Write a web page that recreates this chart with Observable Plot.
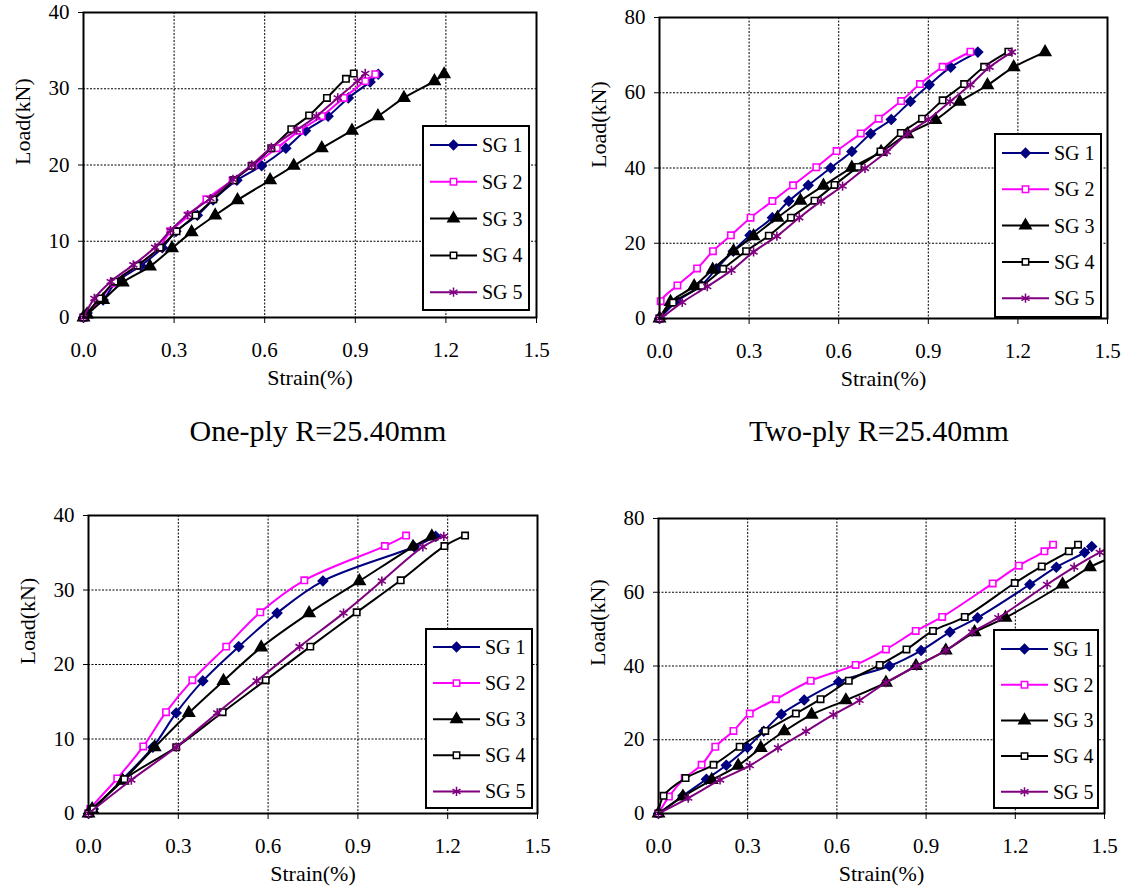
<!DOCTYPE html>
<html>
<head>
<meta charset="utf-8">
<script src="https://cdn.jsdelivr.net/npm/d3@7"></script>
<script src="https://cdn.jsdelivr.net/npm/@observablehq/plot@0.6"></script>
<style>
  body { margin: 0; background: #fff; }
  #root { position: relative; width: 1131px; height: 888px; overflow: hidden; background: #fff;
          font-family: "Liberation Serif", "Times New Roman", serif; color: #000; }
  #root svg text { font-family: "Liberation Serif", "Times New Roman", serif; }
  .panel { position: absolute; }
  .title { position: absolute; font-size: 30px; text-align: center; white-space: nowrap; }
  .legend { position: absolute; }
</style>
</head>
<body>
<div id="root"></div>
<script>
// ---------------- DATA (strain %, load kN) ----------------
const xTicks = [0, 0.3, 0.6, 0.9, 1.2, 1.5];
const yTicks40 = [0, 10, 20, 30, 40];
const yTicks80 = [0, 20, 40, 60, 80];
const gauges = ["SG 1", "SG 2", "SG 3", "SG 4", "SG 5"];
const titles = ["One-ply R=25.40mm", "Two-ply R=25.40mm"];
const xLabel = "Strain(%)";
const yLabel = "Load(kN)";

// One-ply R=25.40mm (top left)
const oneTop_SG1 = [[0,0],[0.012,0.6],[0.065,2.3],[0.107,4.6],[0.19,6.8],[0.261,9.15],[0.306,11.3],[0.377,13.4],[0.429,15.4],[0.508,18.0],[0.59,19.9],[0.67,22.2],[0.735,24.5],[0.81,26.4],[0.877,28.8],[0.949,30.9],[0.976,31.9]];
const oneTop_SG2 = [[0,0],[0.057,2.4],[0.098,4.5],[0.178,6.8],[0.249,9.1],[0.288,11.3],[0.35,13.4],[0.407,15.5],[0.494,18.0],[0.561,19.9],[0.64,22.2],[0.715,24.5],[0.789,26.4],[0.862,28.8],[0.933,31.0],[0.966,31.9]];
const oneTop_SG3 = [[0,0],[0.012,0.4],[0.065,2.3],[0.13,4.6],[0.22,6.7],[0.293,9.1],[0.358,11.2],[0.436,13.4],[0.51,15.4],[0.618,18.0],[0.696,19.9],[0.789,22.2],[0.889,24.5],[0.975,26.4],[1.061,28.8],[1.162,31.0],[1.194,31.9]];
const oneTop_SG4 = [[0,0],[0.053,2.5],[0.103,4.7],[0.178,6.8],[0.253,9.15],[0.308,11.3],[0.371,13.4],[0.43,15.5],[0.498,18.0],[0.557,19.9],[0.622,22.2],[0.688,24.7],[0.747,26.5],[0.806,28.8],[0.869,31.3],[0.895,32.0]];
const oneTop_SG5 = [[0,0],[0.036,2.5],[0.09,4.7],[0.165,6.9],[0.237,9.2],[0.288,11.4],[0.345,13.5],[0.42,15.6],[0.495,18.1],[0.557,20.0],[0.622,22.3],[0.706,24.6],[0.771,26.4],[0.842,28.8],[0.907,31.0],[0.933,32.0]];

// Two-ply R=25.40mm (top right)
const twoTop_SG1 = [[0,0],[0.059,4.6],[0.14,8.8],[0.19,13.2],[0.247,17.9],[0.303,22.1],[0.378,26.8],[0.433,31.2],[0.498,35.4],[0.573,40.0],[0.644,44.4],[0.707,49.1],[0.776,52.9],[0.84,57.7],[0.903,62.1],[0.975,66.8],[1.066,70.8]];
const twoTop_SG2 = [[0,0],[0.004,4.6],[0.06,8.8],[0.126,13.3],[0.179,17.9],[0.239,22.1],[0.305,26.8],[0.378,31.2],[0.447,35.4],[0.525,40.2],[0.593,44.5],[0.674,49.2],[0.734,53.1],[0.809,57.8],[0.872,62.3],[0.948,66.9],[1.041,70.9]];
const twoTop_SG3 = [[0,0],[0.037,4.4],[0.116,8.6],[0.178,13.0],[0.248,17.9],[0.315,21.9],[0.395,26.8],[0.472,31.3],[0.549,35.3],[0.644,40.1],[0.742,44.3],[0.83,49.0],[0.924,52.8],[1.005,57.6],[1.098,62.0],[1.186,66.8],[1.291,70.8]];
const twoTop_SG4 = [[0,0],[0.045,4.2],[0.142,8.7],[0.213,13.2],[0.29,17.9],[0.366,22.0],[0.44,26.8],[0.519,31.3],[0.586,35.5],[0.665,40.3],[0.74,44.4],[0.808,49.3],[0.879,53.1],[0.948,58.0],[1.02,62.3],[1.087,66.9],[1.168,70.9]];
const twoTop_SG5 = [[0,0],[0.01,0.4],[0.076,4.3],[0.16,8.5],[0.241,12.8],[0.315,17.7],[0.393,21.9],[0.468,26.8],[0.541,31.2],[0.613,35.2],[0.688,39.9],[0.761,44.3],[0.83,49.1],[0.9,52.9],[0.973,57.7],[1.041,62.1],[1.105,66.8],[1.18,70.8]];

// One-ply (bottom left)
const oneBot_SG1 = [[0,0],[0.016,0.6],[0.114,4.6],[0.215,8.9],[0.293,13.5],[0.382,17.8],[0.502,22.4],[0.63,26.9],[0.783,31.2],[1.088,35.8],[1.16,37.2]];
const oneBot_SG2 = [[0,0],[0.006,0.6],[0.096,4.7],[0.183,9.0],[0.259,13.6],[0.347,17.9],[0.46,22.4],[0.574,27.0],[0.721,31.3],[0.99,35.9],[1.061,37.3]];
const oneBot_SG3 = [[0,0],[0.012,0.6],[0.114,4.4],[0.221,8.9],[0.335,13.5],[0.451,17.8],[0.577,22.3],[0.737,26.9],[0.905,31.2],[1.084,35.8],[1.147,37.2]];
const oneBot_SG4 = [[0,0],[0.016,0.6],[0.12,4.6],[0.293,8.9],[0.448,13.6],[0.592,17.9],[0.741,22.4],[0.896,27.0],[1.043,31.3],[1.189,35.9],[1.258,37.3]];
const oneBot_SG5 = [[0,0],[0.143,4.5],[0.293,8.9],[0.43,13.5],[0.562,17.8],[0.705,22.4],[0.852,26.9],[0.98,31.2],[1.117,35.8],[1.187,37.2]];

// Two-ply (bottom right)
const twoBot_SG1 = [[0,0],[0.082,4.8],[0.161,9.3],[0.228,13.1],[0.299,17.9],[0.354,22.3],[0.413,26.9],[0.49,30.8],[0.606,35.7],[0.777,40.0],[0.883,44.2],[0.98,49.2],[1.073,53.1],[1.249,62.1],[1.338,66.8],[1.433,70.8],[1.457,72.4]];
const twoBot_SG2 = [[0,0],[0.035,4.6],[0.088,9.6],[0.145,13.2],[0.191,18.1],[0.252,22.4],[0.307,27.1],[0.395,31.0],[0.512,36.0],[0.663,40.3],[0.765,44.5],[0.865,49.5],[0.954,53.3],[1.124,62.4],[1.212,67.2],[1.298,71.1],[1.327,72.9]];
const twoBot_SG3 = [[0,0],[0.082,4.6],[0.179,9.1],[0.268,13.0],[0.344,17.8],[0.423,22.3],[0.515,26.8],[0.63,30.7],[0.765,35.5],[0.866,40.0],[0.966,44.2],[1.063,49.2],[1.167,53.1],[1.359,62.1],[1.451,66.8],[1.52,69.3]];
const twoBot_SG4 = [[0,0],[0.017,4.8],[0.091,9.6],[0.185,13.2],[0.273,18.1],[0.359,22.4],[0.462,27.1],[0.545,31.0],[0.64,36.0],[0.744,40.3],[0.834,44.5],[0.923,49.5],[1.03,53.3],[1.198,62.5],[1.289,67.0],[1.38,71.1],[1.411,72.9]];
const twoBot_SG5 = [[0,0],[0.1,4.2],[0.207,9.1],[0.307,13.0],[0.402,17.8],[0.496,22.3],[0.588,26.8],[0.676,30.7],[0.765,35.5],[0.868,40.0],[0.966,44.2],[1.055,49.2],[1.143,53.1],[1.307,62.1],[1.398,66.8],[1.484,70.8],[1.52,72.3]];

// ---------------- STYLE ----------------
const FONT = '"Liberation Serif", "Times New Roman", serif';
const gaugeStyle = [
  {color: "#000080", symbol: "diamond2", fill: "#000080", r: 4.2, sym: d3.symbolDiamond2},
  {color: "#FF00FF", symbol: "square",   fill: "#ffffff", r: 3.6, sym: d3.symbolSquare},
  {color: "#000000", symbol: "triangle", fill: "#000000", r: 4.2, sym: d3.symbolTriangle},
  {color: "#000000", symbol: "square",   fill: "#ffffff", r: 3.6, sym: d3.symbolSquare},
  {color: "#800080", symbol: "asterisk", fill: "none",    r: 4.4, sym: d3.symbolAsterisk}
];

const panels = [
  {series: [oneTop_SG1, oneTop_SG2, oneTop_SG3, oneTop_SG4, oneTop_SG5], yMax: 40, yTicks: yTicks40,
   left: 0, top: 0, width: 560, height: 400, mt: 12, mr: 24, mb: 83, ml: 83,
   legend: {x: 422, y: 125, w: 108, h: 186, r0: 20, dr: 36.8}},
  {series: [twoTop_SG1, twoTop_SG2, twoTop_SG3, twoTop_SG4, twoTop_SG5], yMax: 80, yTicks: yTicks80,
   left: 565, top: 0, width: 566, height: 400, mt: 17, mr: 24, mb: 82, ml: 94,
   legend: {x: 994, y: 133, w: 108, h: 185, r0: 20, dr: 36.3}},
  {series: [oneBot_SG1, oneBot_SG2, oneBot_SG3, oneBot_SG4, oneBot_SG5], yMax: 40, yTicks: yTicks40,
   left: 0, top: 490, width: 560, height: 398, mt: 25, mr: 23, mb: 75, ml: 88,
   legend: {x: 425, y: 628, w: 108, h: 181, r0: 19, dr: 36.1}},
  {series: [twoBot_SG1, twoBot_SG2, twoBot_SG3, twoBot_SG4, twoBot_SG5], yMax: 80, yTicks: yTicks80,
   left: 565, top: 490, width: 566, height: 398, mt: 28, mr: 27, mb: 75, ml: 93,
   legend: {x: 993, y: 629, w: 106, h: 180, r0: 20, dr: 35.7}}
];

const root = document.getElementById("root");

function makePanel(p) {
  const marks = [];
  marks.push(Plot.ruleX(xTicks.slice(1, -1), {stroke: "#000", strokeWidth: 1, strokeDasharray: "2,1.5"}));
  marks.push(Plot.ruleY(p.yTicks.slice(1, -1), {stroke: "#000", strokeWidth: 1, strokeDasharray: "2,1.5"}));
  p.series.forEach((s, i) => {
    const st = gaugeStyle[i];
    const pts = s.map(([x, y]) => ({x, y}));
    marks.push(Plot.line(pts, {x: "x", y: "y", stroke: st.color, strokeWidth: 2, curve: "catmull-rom", clip: true}));
    marks.push(Plot.dot(pts.filter(d => d.x <= 1.5), {
      x: "x", y: "y", symbol: st.symbol, r: st.r, fill: st.fill, stroke: st.color, strokeWidth: 1.6
    }));
  });
  marks.push(Plot.frame({stroke: "#000", strokeWidth: 2}));
  // axis titles, anchored on the frame
  marks.push(Plot.text([xLabel], {text: d => d, frameAnchor: "bottom", dy: 67, fontSize: 22, fill: "#000"}));
  marks.push(Plot.text([yLabel], {text: d => d, frameAnchor: "left", dx: -61, rotate: -90, fontSize: 22, fill: "#000"}));

  const svg = Plot.plot({
    width: p.width, height: p.height,
    marginTop: p.mt, marginRight: p.mr, marginBottom: p.mb, marginLeft: p.ml,
    style: {fontFamily: FONT, fontSize: "21px", color: "#000", background: "transparent", overflow: "visible"},
    x: {domain: [0, 1.5], ticks: xTicks, tickFormat: d3.format(".1f"), tickSize: 6, tickPadding: 18.5, label: null},
    y: {domain: [0, p.yMax], ticks: p.yTicks, tickFormat: d3.format("d"), tickSize: 5, tickPadding: 9, label: null},
    marks
  });
  const wrap = document.createElement("div");
  wrap.className = "panel";
  wrap.style.left = p.left + "px";
  wrap.style.top = p.top + "px";
  wrap.appendChild(svg);
  root.appendChild(wrap);

  // legend box (inside the plot area, as in the original)
  const L = p.legend;
  const lg = d3.create("svg")
    .attr("class", "legend")
    .attr("width", L.w).attr("height", L.h)
    .style("left", L.x + "px").style("top", L.y + "px")
    .style("font-family", FONT);
  lg.append("rect").attr("x", 1).attr("y", 1).attr("width", L.w - 2).attr("height", L.h - 2)
    .attr("fill", "#fff").attr("stroke", "#000").attr("stroke-width", 2);
  gauges.forEach((g, i) => {
    const st = gaugeStyle[i];
    const cy = L.r0 + i * L.dr;
    lg.append("line").attr("x1", 8).attr("x2", 55).attr("y1", cy).attr("y2", cy)
      .attr("stroke", st.color).attr("stroke-width", 2);
    lg.append("path")
      .attr("transform", `translate(31.5,${cy})`)
      .attr("d", d3.symbol(st.sym, Math.PI * st.r * st.r)())
      .attr("fill", st.fill).attr("stroke", st.color).attr("stroke-width", 1.5);
    lg.append("text").attr("x", 60).attr("y", cy).attr("dy", "0.35em")
      .attr("font-size", 20).text(g);
  });
  root.appendChild(lg.node());
}

panels.forEach(makePanel);

// panel titles between the two rows
[[titles[0], 318], [titles[1], 879]].forEach(([t, cx]) => {
  const d = document.createElement("div");
  d.className = "title";
  d.textContent = t;
  d.style.left = (cx - 200) + "px";
  d.style.width = "400px";
  d.style.top = "414px";
  d.style.lineHeight = "34px";
  root.appendChild(d);
});
</script>
</body>
</html>
